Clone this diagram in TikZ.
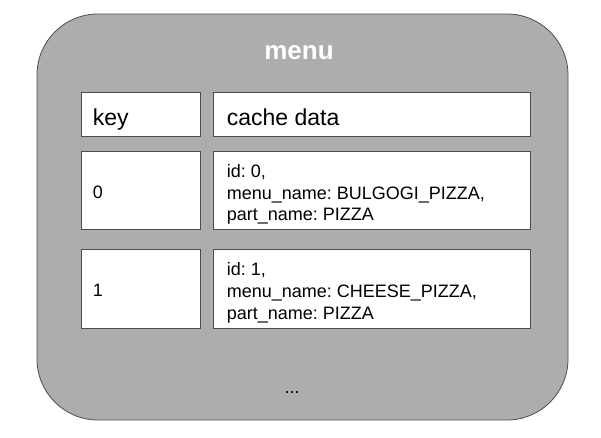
\documentclass[tikz,border=0pt]{standalone}
\usepackage{fontspec}
\setmainfont{Liberation Sans}
\frenchspacing
\usetikzlibrary{positioning}
\definecolor{menugray}{RGB}{173,173,173}
\definecolor{edgegray}{RGB}{77,77,77}

\begin{document}
\begin{tikzpicture}[x=1pt,y=-1pt,
    keycell/.style={draw=edgegray,fill=white,line width=0.8pt,minimum width=119pt},
    datacell/.style={draw=edgegray,fill=white,line width=0.8pt,minimum width=317pt},
    celltext/.style={inner sep=0pt,align=left,font=\fontsize{18}{21.7}\selectfont},
    headtext/.style={inner sep=0pt,align=left,text height=21.6pt,text depth=0pt,font=\fontsize{23}{27}\selectfont}]
    \useasboundingbox (0,0) rectangle (601,437);
    \node[draw=edgegray,fill=menugray,rounded corners=61pt,minimum width=531pt,minimum height=406pt,line width=0.8pt] (menu) at (302.5,217) {};
    \node[white,font=\bfseries\fontsize{26}{30}\selectfont] (title) at (299,53) {menu};

    % header row
    \node[keycell,minimum height=44pt] (keyhead) at (140.5,114.5) {};
    \node[datacell,minimum height=44pt] (datahead) at (371.5,114.5) {};
    \node[headtext,anchor=west] (keylabel) at ([xshift=12pt]keyhead.west) {key};
    \node[headtext,anchor=west] (datalabel) at ([xshift=14pt]datahead.west) {cache data};

    % cached entries
    \node[keycell,minimum height=78pt] (key0) at (140.5,190) {};
    \node[datacell,minimum height=78pt] (data0) at (371.5,190) {};
    \node[keycell,minimum height=79pt] (key1) at (140.5,288.5) {};
    \node[datacell,minimum height=79pt] (data1) at (371.5,288.5) {};
    \node[celltext,anchor=west] (key0text) at ([xshift=12pt,yshift=-2pt]key0.west) {0};
    \node[celltext,anchor=west] (data0text) at ([xshift=14pt,yshift=-4.5pt]data0.west) {id: 0,\\menu\_name: BULGOGI\_PIZZA,\\part\_name: PIZZA};
    \node[celltext,anchor=west] (key1text) at ([xshift=12pt,yshift=-2pt]key1.west) {1};
    \node[celltext,anchor=west] (data1text) at ([xshift=14pt,yshift=-4.5pt]data1.west) {id: 1,\\menu\_name: CHEESE\_PIZZA,\\part\_name: PIZZA};

    \node[font=\fontsize{18}{21.7}\selectfont] (more) at (292,393) {...};
\end{tikzpicture}
\end{document}
